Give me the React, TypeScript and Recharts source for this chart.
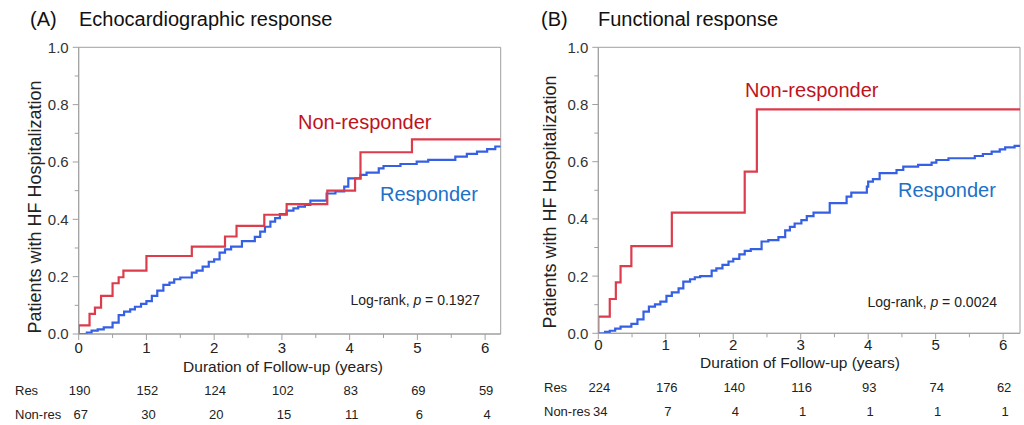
import React from "react";
import { LineChart, Line, XAxis, YAxis, ReferenceArea } from "recharts";

// ---------- data ----------
const xTicks = [0, 0.5, 1, 1.5, 2, 2.5, 3, 3.5, 4, 4.5, 5, 5.5, 6];
const yTicks = [0, 0.1, 0.2, 0.3, 0.4, 0.5, 0.6, 0.7, 0.8, 0.9, 1.0];
const yTickLabels = ["0.0", "", "0.2", "", "0.4", "", "0.6", "", "0.8", "", "1.0"];

// Panel A: Echocardiographic response
const aNonResT = [0, 0, 0.16, 0.24, 0.33, 0.5, 0.59, 0.66, 1.0, 1.67, 2.16, 2.33, 2.74, 3.07, 3.67, 4.08, 4.16, 4.92, 6.23];
const aNonResP = [0, 0.03, 0.07, 0.092, 0.133, 0.177, 0.198, 0.221, 0.272, 0.305, 0.34, 0.377, 0.416, 0.453, 0.5, 0.543, 0.634, 0.679, 0.679];
const aResT = [0, 0.12, 0.19, 0.28, 0.37, 0.5, 0.59, 0.67, 0.76, 0.83, 0.92, 1.0, 1.08, 1.16, 1.25, 1.34, 1.41, 1.5, 1.67, 1.74, 1.83, 1.92, 2.0, 2.08, 2.16, 2.25, 2.41, 2.6, 2.68, 2.75, 2.83, 2.9, 2.97, 3.07, 3.17, 3.24, 3.34, 3.42, 3.66, 3.79, 3.92, 3.98, 4.16, 4.25, 4.43, 4.5, 4.75, 4.99, 5.16, 5.56, 5.73, 5.88, 6.03, 6.15, 6.23];
const aResP = [0, 0.005, 0.012, 0.016, 0.023, 0.04, 0.066, 0.078, 0.086, 0.095, 0.105, 0.115, 0.133, 0.151, 0.171, 0.179, 0.191, 0.197, 0.214, 0.221, 0.235, 0.252, 0.26, 0.284, 0.295, 0.305, 0.324, 0.339, 0.357, 0.374, 0.392, 0.404, 0.418, 0.43, 0.438, 0.444, 0.45, 0.465, 0.49, 0.497, 0.514, 0.543, 0.555, 0.563, 0.578, 0.586, 0.593, 0.601, 0.607, 0.619, 0.628, 0.636, 0.645, 0.654, 0.654];
const aRiskRes = [190, 152, 124, 102, 83, 69, 59];
const aRiskNon = [67, 30, 20, 15, 11, 6, 4];

// Panel B: Functional response
const bNonResT = [0, 0, 0.17, 0.26, 0.33, 0.49, 1.09, 2.17, 2.35, 6.25];
const bNonResP = [0, 0.058, 0.12, 0.178, 0.235, 0.305, 0.422, 0.565, 0.783, 0.783];
const bResT = [0, 0.1, 0.17, 0.25, 0.33, 0.49, 0.58, 0.67, 0.75, 0.84, 0.92, 1.01, 1.09, 1.19, 1.26, 1.36, 1.43, 1.51, 1.68, 1.75, 1.84, 1.93, 2.0, 2.09, 2.17, 2.26, 2.42, 2.52, 2.67, 2.77, 2.84, 2.91, 3.01, 3.09, 3.19, 3.43, 3.68, 3.75, 3.98, 4.0, 4.07, 4.17, 4.42, 4.52, 4.74, 4.94, 5.01, 5.19, 5.58, 5.7, 5.83, 5.95, 6.03, 6.17, 6.25];
const bResP = [0, 0.005, 0.009, 0.016, 0.023, 0.033, 0.049, 0.076, 0.093, 0.101, 0.111, 0.131, 0.143, 0.157, 0.181, 0.189, 0.196, 0.2, 0.219, 0.227, 0.239, 0.251, 0.26, 0.276, 0.288, 0.294, 0.321, 0.326, 0.336, 0.36, 0.372, 0.384, 0.396, 0.41, 0.422, 0.455, 0.478, 0.492, 0.513, 0.53, 0.539, 0.56, 0.571, 0.583, 0.589, 0.597, 0.606, 0.612, 0.62, 0.627, 0.635, 0.643, 0.65, 0.655, 0.655];
const bRiskRes = [224, 176, 140, 116, 93, 74, 62];
const bRiskNon = [34, 7, 4, 1, 1, 1, 1];

// ---------- styles ----------
const FONT = "'Liberation Sans', Arial, sans-serif";
const AXIS = "#a0a0a0";
const RED_LINE = "#dc3c4c";
const BLUE_LINE = "#3560e4";
const RED_TEXT = "#c0121c";
const BLUE_TEXT = "#1e70c8";

const zip = (t: number[], p: number[]) => t.map((v, i) => ({ t: v, p: p[i] }));

function makeXTick(res: number[], non: number[], labelDy: number, resDy: number, nonDy: number) {
  return (props: any) => {
    const { x, y, payload } = props;
    const v = payload.value as number;
    const major = Math.abs(v - Math.round(v)) < 1e-6;
    const i = Math.round(v);
    return (
      <g>
        <line x1={x} x2={x} y1={y} y2={y + (major ? 6 : 4)} stroke={AXIS} strokeWidth={1} />
        {major && (
          <text x={x} y={y + labelDy} textAnchor="middle" fontSize={15} fontFamily={FONT} fill="#222">
            {i}
          </text>
        )}
        {major && (
          <text x={x + 1} y={y + resDy} textAnchor="middle" fontSize={13} fontFamily={FONT} fill="#222">
            {res[i]}
          </text>
        )}
        {major && (
          <text x={x + 2} y={y + nonDy} textAnchor="middle" fontSize={13} fontFamily={FONT} fill="#222">
            {non[i]}
          </text>
        )}
      </g>
    );
  };
}

const YTick = (props: any) => {
  const { x, y, payload, index } = props;
  const major = index % 2 === 0;
  return (
    <g>
      <line x1={x} x2={x - (major ? 6 : 4)} y1={y} y2={y} stroke={AXIS} strokeWidth={1} />
      {major && (
        <text x={x - 10} y={y} dy="0.36em" textAnchor="end" fontSize={15} fontFamily={FONT} fill="#333">
          {yTickLabels[index]}
        </text>
      )}
    </g>
  );
};

interface PanelProps {
  left: number;
  xMax: number;
  plotLeft: number;
  plotRight: number;
  plotTop: number;
  plotBottom: number;
  nonData: { t: number; p: number }[];
  resData: { t: number; p: number }[];
  riskRes: number[];
  riskNon: number[];
  labelDy: number;
  resDy: number;
  nonDy: number;
}

function Panel(pp: PanelProps) {
  const W = 512;
  const H = 425;
  const yAxisW = 40;
  return (
    <div style={{ position: "absolute", left: pp.left, top: 0, width: W, height: H }}>
      <LineChart
        width={W}
        height={H}
        margin={{ top: pp.plotTop, right: W - pp.plotRight, bottom: 0, left: pp.plotLeft - yAxisW }}
      >
        <XAxis
          dataKey="t"
          type="number"
          domain={[0, pp.xMax]}
          ticks={xTicks}
          interval={0}
          height={H - pp.plotBottom}
          tickSize={0}
          tickMargin={0}
          tickLine={false}
          axisLine={{ stroke: AXIS }}
          tick={makeXTick(pp.riskRes, pp.riskNon, pp.labelDy, pp.resDy, pp.nonDy)}
          allowDataOverflow
        />
        <YAxis
          dataKey="p"
          type="number"
          domain={[0, 1]}
          ticks={yTicks}
          interval={0}
          width={yAxisW}
          tickSize={0}
          tickMargin={0}
          tickLine={false}
          axisLine={{ stroke: AXIS }}
          tick={<YTick />}
          allowDataOverflow
        />
        <ReferenceArea x1={0} x2={pp.xMax} y1={0} y2={1} fill="none" stroke={AXIS} strokeWidth={1} />
        <Line
          data={pp.resData}
          dataKey="p"
          type="stepAfter"
          stroke={BLUE_LINE}
          strokeWidth={2.2}
          dot={false}
          activeDot={false}
          isAnimationActive={false}
        />
        <Line
          data={pp.nonData}
          dataKey="p"
          type="stepAfter"
          stroke={RED_LINE}
          strokeWidth={2.2}
          dot={false}
          activeDot={false}
          isAnimationActive={false}
        />
      </LineChart>
    </div>
  );
}

export default function App() {
  return (
    <div style={{ position: "absolute", left: 0, top: 0, width: 1024, height: 425, background: "#fff", overflow: "hidden" }}>
      <Panel
        left={0}
        xMax={6.23}
        plotLeft={78.7}
        plotRight={500.7}
        plotTop={47.3}
        plotBottom={334}
        nonData={zip(aNonResT, aNonResP)}
        resData={zip(aResT, aResP)}
        riskRes={aRiskRes}
        riskNon={aRiskNon}
        labelDy={19.3}
        resDy={61}
        nonDy={85.3}
      />
      <Panel
        left={512}
        xMax={6.25}
        plotLeft={86.3}
        plotRight={508}
        plotTop={47.3}
        plotBottom={333.3}
        nonData={zip(bNonResT, bNonResP)}
        resData={zip(bResT, bResP)}
        riskRes={bRiskRes}
        riskNon={bRiskNon}
        labelDy={16.7}
        resDy={58.4}
        nonDy={82.7}
      />
      <svg
        width={1024}
        height={425}
        style={{ position: "absolute", left: 0, top: 0, pointerEvents: "none" }}
        fontFamily={FONT}
      >
        {/* Panel A */}
        <text x={30} y={26} fontSize={20} fill="#111">(A)</text>
        <text x={79} y={26} fontSize={20} fill="#111">Echocardiographic response</text>
        <text
          transform="translate(35,207) rotate(-90)"
          textAnchor="middle"
          dominantBaseline="central"
          fontSize={18}
          fill="#222"
        >
          Patients with HF Hospitalization
        </text>
        <text x={283} y={372} textAnchor="middle" fontSize={15.5} fill="#222">Duration of Follow-up (years)</text>
        <text x={15} y={395} fontSize={13} fill="#222">Res</text>
        <text x={15} y={419.3} fontSize={13} fill="#222">Non-res</text>
        <text x={298} y={129.3} fontSize={20} fill={RED_TEXT}>Non-responder</text>
        <text x={380} y={201} fontSize={20} fill={BLUE_TEXT}>Responder</text>
        <text x={480} y={305} textAnchor="end" fontSize={14} fill="#222">
          Log-rank, <tspan fontStyle="italic">p</tspan> = 0.1927
        </text>

        {/* Panel B */}
        <text x={541} y={26} fontSize={20} fill="#111">(B)</text>
        <text x={598} y={26} fontSize={20} fill="#111">Functional response</text>
        <text
          transform="translate(550,202) rotate(-90)"
          textAnchor="middle"
          dominantBaseline="central"
          fontSize={18}
          fill="#222"
        >
          Patients with HF Hospitalization
        </text>
        <text x={800} y={368} textAnchor="middle" fontSize={15.5} fill="#222">Duration of Follow-up (years)</text>
        <text x={544} y={391.7} fontSize={13} fill="#222">Res</text>
        <text x={544} y={416} fontSize={13} fill="#222">Non-res</text>
        <text x={745} y={96.7} fontSize={20} fill={RED_TEXT}>Non-responder</text>
        <text x={898} y={196.7} fontSize={20} fill={BLUE_TEXT}>Responder</text>
        <text x={997} y={306.7} textAnchor="end" fontSize={14} fill="#222">
          Log-rank, <tspan fontStyle="italic">p</tspan> = 0.0024
        </text>
      </svg>
    </div>
  );
}
